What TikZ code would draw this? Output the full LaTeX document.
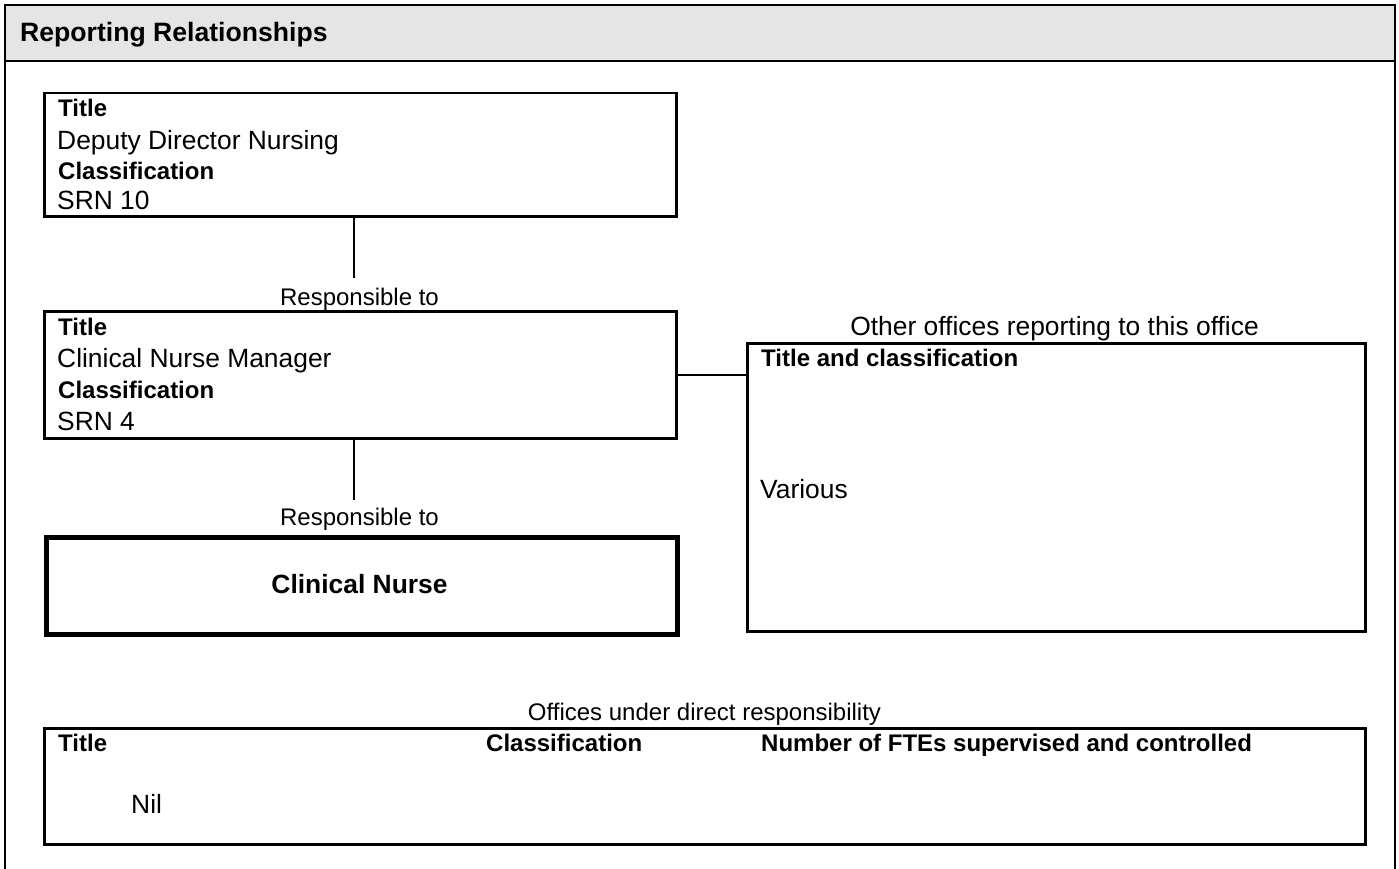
\documentclass[tikz,border=0pt]{standalone}
\usepackage{fontspec}
\setmainfont{Liberation Sans}
\definecolor{headgray}{RGB}{229,229,229}
\begin{document}
\begin{tikzpicture}[x=1pt,y=-1pt,
  box/.style={draw,line width=2.5pt,rectangle,anchor=north west,inner sep=0pt},
  thickbox/.style={box,line width=4.5pt},
  conn/.style={line width=1.6pt},
  lbl/.style={inner sep=0pt,anchor=base west,font=\fontsize{24}{28}\selectfont\bfseries},
  txt/.style={inner sep=0pt,anchor=base west,font=\fontsize{26.4}{30}\selectfont},
  captext/.style={inner sep=0pt,anchor=base,font=\fontsize{24}{28}\selectfont},
  captextbig/.style={inner sep=0pt,anchor=base,font=\fontsize{26.4}{30}\selectfont},
  head/.style={inner sep=0pt,anchor=base west,font=\fontsize{26.6}{30}\selectfont\bfseries}]
\useasboundingbox (0,0) rectangle (1399,869);
% header band and outer frame
\fill[headgray] (5,5) rectangle (1395,61);
\draw[line width=2.8pt] (5,869) -- (5,5) -- (1395,5) -- (1395,869);
\draw[line width=2.8pt] (5,61) -- (1395,61);
\node[head] (heading) at (20,42) {Reporting Relationships};

% box 1
\node[box,minimum width=632pt,minimum height=123pt] (b1) at (43,92) {};
\node[lbl] (b1t) at (58,117) {Title};
\node[txt] (b1n) at (57,149.5) {Deputy Director Nursing};
\node[lbl] (b1c) at (58,179) {Classification};
\node[txt] (b1s) at (57,209.5) {SRN 10};

% connector 1
\coordinate (c1) at (354,278);
\draw[conn] (c1 |- b1.south) -- (c1);
\node[captext] (r1) at (359.5,305) {Responsible to};

% box 2
\node[box,minimum width=632pt,minimum height=127pt] (b2) at (43,310) {};
\node[lbl] (b2t) at (58,335) {Title};
\node[txt] (b2n) at (57,367.5) {Clinical Nurse Manager};
\node[lbl] (b2c) at (58,398) {Classification};
\node[txt] (b2s) at (57,430) {SRN 4};

% connector 2
\coordinate (c2) at (354,500);
\draw[conn] (c2 |- b2.south) -- (c2);
\node[captext] (r2) at (359.5,525) {Responsible to};

% box 3
\node[thickbox,minimum width=631pt,minimum height=97pt] (b3) at (44,535) {};
\node[inner sep=0pt,anchor=base,font=\fontsize{26.4}{30}\selectfont\bfseries] (b3n) at (359.5,593) {Clinical Nurse};

% box 4
\node[box,minimum width=618pt,minimum height=288pt] (b4) at (746,342) {};
\node[captextbig] (o1) at (1054.5,335) {Other offices reporting to this office};
\node[lbl] (b4t) at (761,366) {Title and classification};
\node[txt] (b4v) at (760,498) {Various};
\draw[conn] (b2.east) -- (b2.east -| b4.west);

% box 5
\node[captext] (o2) at (704.5,720) {Offices under direct responsibility};
\node[box,minimum width=1321pt,minimum height=116pt] (b5) at (43,727) {};
\node[lbl] (b5t) at (58,751) {Title};
\node[lbl] (b5c) at (486,751) {Classification};
\node[lbl] (b5f) at (761,751) {Number of FTEs supervised and controlled};
\node[txt] (b5n) at (131,813) {Nil};
\end{tikzpicture}
\end{document}
